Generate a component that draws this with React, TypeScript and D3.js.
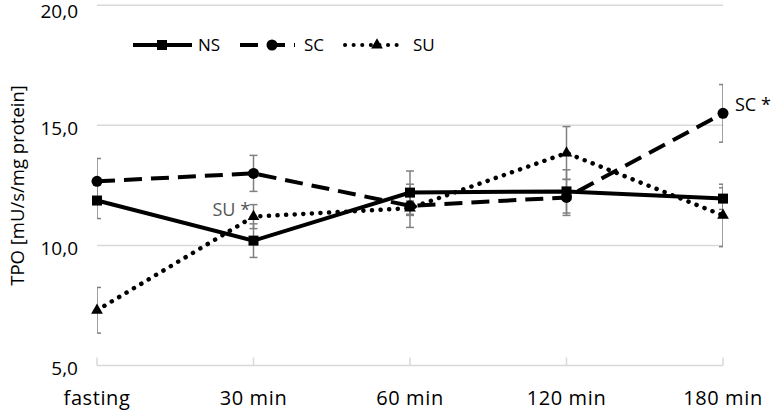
import React from "react";
import * as d3 from "d3";

const categories = ["fasting", "30 min", "60 min", "120 min", "180 min"];
const yTicks = [5, 10, 15, 20];
const seriesNames = ["NS", "SC", "SU"];
const nsValues = [11.87, 10.2, 12.2, 12.25, 11.95];
const nsErrors = [0.75, 0.7, 0.9, 0.9, 0.45];
const scValues = [12.67, 13.0, 11.65, 12.0, 15.5];
const scErrors = [0.95, 0.75, 0.9, 0.75, 1.2];
const suValues = [7.3, 11.2, 11.55, 13.85, 11.25];
const suErrors = [0.95, 0.5, 0.3, 1.1, 1.3];
const annotations = [
  { series: "SU", index: 1, text: "SU *" },
  { series: "SC", index: 4, text: "SC *" },
];

const W = 774;
const H = 413;
const left = 97;
const right = 723;
const top = 5.3;
const bottom = 365.5;
const FONT = "'Open Sans', sans-serif";

const series = [
  { name: seriesNames[0], values: nsValues, errors: nsErrors, dash: "none", marker: "square" },
  { name: seriesNames[1], values: scValues, errors: scErrors, dash: "18 9", marker: "circle" },
  { name: seriesNames[2], values: suValues, errors: suErrors, dash: "0.1 8.5", marker: "triangle" },
];

function Marker({ type, x, y }: { type: string; x: number; y: number }) {
  if (type === "square") return <rect x={x - 5} y={y - 5} width={10} height={10} fill="#000" />;
  if (type === "circle") return <circle cx={x} cy={y} r={5.5} fill="#000" />;
  const tri = d3.symbol().type(d3.symbolTriangle).size(60)();
  return <path d={tri || ""} transform={`translate(${x},${y})`} fill="#000" />;
}

export default function App() {
  const x = d3.scalePoint<string>().domain(categories).range([left, right]);
  const y = d3.scaleLinear().domain([5, 20]).range([bottom, top]);
  const line = d3
    .line<number>()
    .x((_, i) => x(categories[i]) as number)
    .y((d) => y(d));

  const legendItems = [
    { x0: 133, x1: 192, mx: 162, tx: 198 },
    { x0: 240, x1: 295, mx: 272, tx: 304 },
    { x0: 345, x1: 400, mx: 377, tx: 413 },
  ];
  const legendY = 45;

  return (
    <svg
      width={W}
      height={H}
      style={{ position: "absolute", left: 0, top: 0, background: "#fff" }}
      fontFamily={FONT}
    >
      <defs>
        <clipPath id="plotclip">
          <rect x={left} y={0} width={right - left} height={H} />
        </clipPath>
      </defs>
      {/* gridlines */}
      {yTicks.slice(1).map((t) => (
        <line key={t} x1={left} x2={right} y1={y(t)} y2={y(t)} stroke="#d9d9d9" strokeWidth={1.5} />
      ))}
      {/* x axis */}
      <line x1={left} x2={right} y1={y(5)} y2={y(5)} stroke="#d9d9d9" strokeWidth={1.5} />
      {categories.map((c) => (
        <line key={c} x1={x(c)} x2={x(c)} y1={y(5)} y2={y(5) - 8} stroke="#d9d9d9" strokeWidth={1.5} />
      ))}
      {/* y tick labels */}
      {yTicks.map((t) => (
        <text
          key={t}
          x={78}
          y={Math.max(y(t) + 3, 11)}
          dy="0.35em"
          textAnchor="end"
          fontSize={19}
          fill="#000"
        >
          {d3.format(".1f")(t).replace(".", ",")}
        </text>
      ))}
      {/* x labels */}
      {categories.map((c) => (
        <text
          key={c}
          x={x(c)}
          y={398}
          dy="0.35em"
          textAnchor="middle"
          fontSize={20}
          letterSpacing={0.6}
          fill="#000"
        >
          {c}
        </text>
      ))}
      {/* y title */}
      <text
        transform={`translate(18,${(top + bottom) / 2}) rotate(-90)`}
        textAnchor="middle"
        dy="0.35em"
        fontSize={18.5}
        fill="#000"
      >
        TPO [mU/s/mg protein]
      </text>
      {/* error bars */}
      <g clipPath="url(#plotclip)">
        {series.map((s) =>
          s.values.map((v, i) => {
            const cx = x(categories[i]) as number;
            const y1 = y(v + s.errors[i]);
            const y2 = y(v - s.errors[i]);
            return (
              <g key={s.name + i} stroke="#808080" strokeWidth={1.5}>
                <line x1={cx} x2={cx} y1={y1} y2={y2} />
                <line x1={cx - 4} x2={cx + 4} y1={y1} y2={y1} />
                <line x1={cx - 4} x2={cx + 4} y1={y2} y2={y2} />
              </g>
            );
          })
        )}
      </g>
      {/* lines */}
      {series.map((s) => (
        <path
          key={s.name}
          d={line(s.values) || ""}
          fill="none"
          stroke="#000"
          strokeWidth={s.marker === "triangle" ? 4.5 : 4}
          strokeDasharray={s.dash}
          strokeLinecap={s.marker === "triangle" ? "round" : "butt"}
        />
      ))}
      {/* markers */}
      {series.map((s) =>
        s.values.map((v, i) => (
          <Marker key={s.name + i} type={s.marker} x={x(categories[i]) as number} y={y(v)} />
        ))
      )}
      {/* annotations */}
      {annotations.map((a) => {
        const s = series.find((q) => q.name === a.series)!;
        const cx = x(categories[a.index]) as number;
        const cy = y(s.values[a.index]);
        const isSU = a.series === "SU";
        return (
          <text
            key={a.text}
            x={isSU ? cx - 41 : cx + 12}
            y={isSU ? cy - 7 : cy - 9}
            dy="0.35em"
            fontSize={18}
            fill={isSU ? "#555" : "#000"}
          >
            {a.text}
          </text>
        );
      })}
      {/* legend */}
      {series.map((s, i) => {
        const li = legendItems[i];
        return (
          <g key={s.name}>
            <line
              x1={li.x0}
              x2={li.x1}
              y1={legendY}
              y2={legendY}
              stroke="#000"
              strokeWidth={4}
              strokeDasharray={s.dash}
              strokeLinecap={s.marker === "triangle" ? "round" : "butt"}
            />
            <Marker type={s.marker} x={li.mx} y={legendY} />
            <text x={li.tx} y={legendY} dy="0.35em" fontSize={17} fill="#000">
              {s.name}
            </text>
          </g>
        );
      })}
    </svg>
  );
}
